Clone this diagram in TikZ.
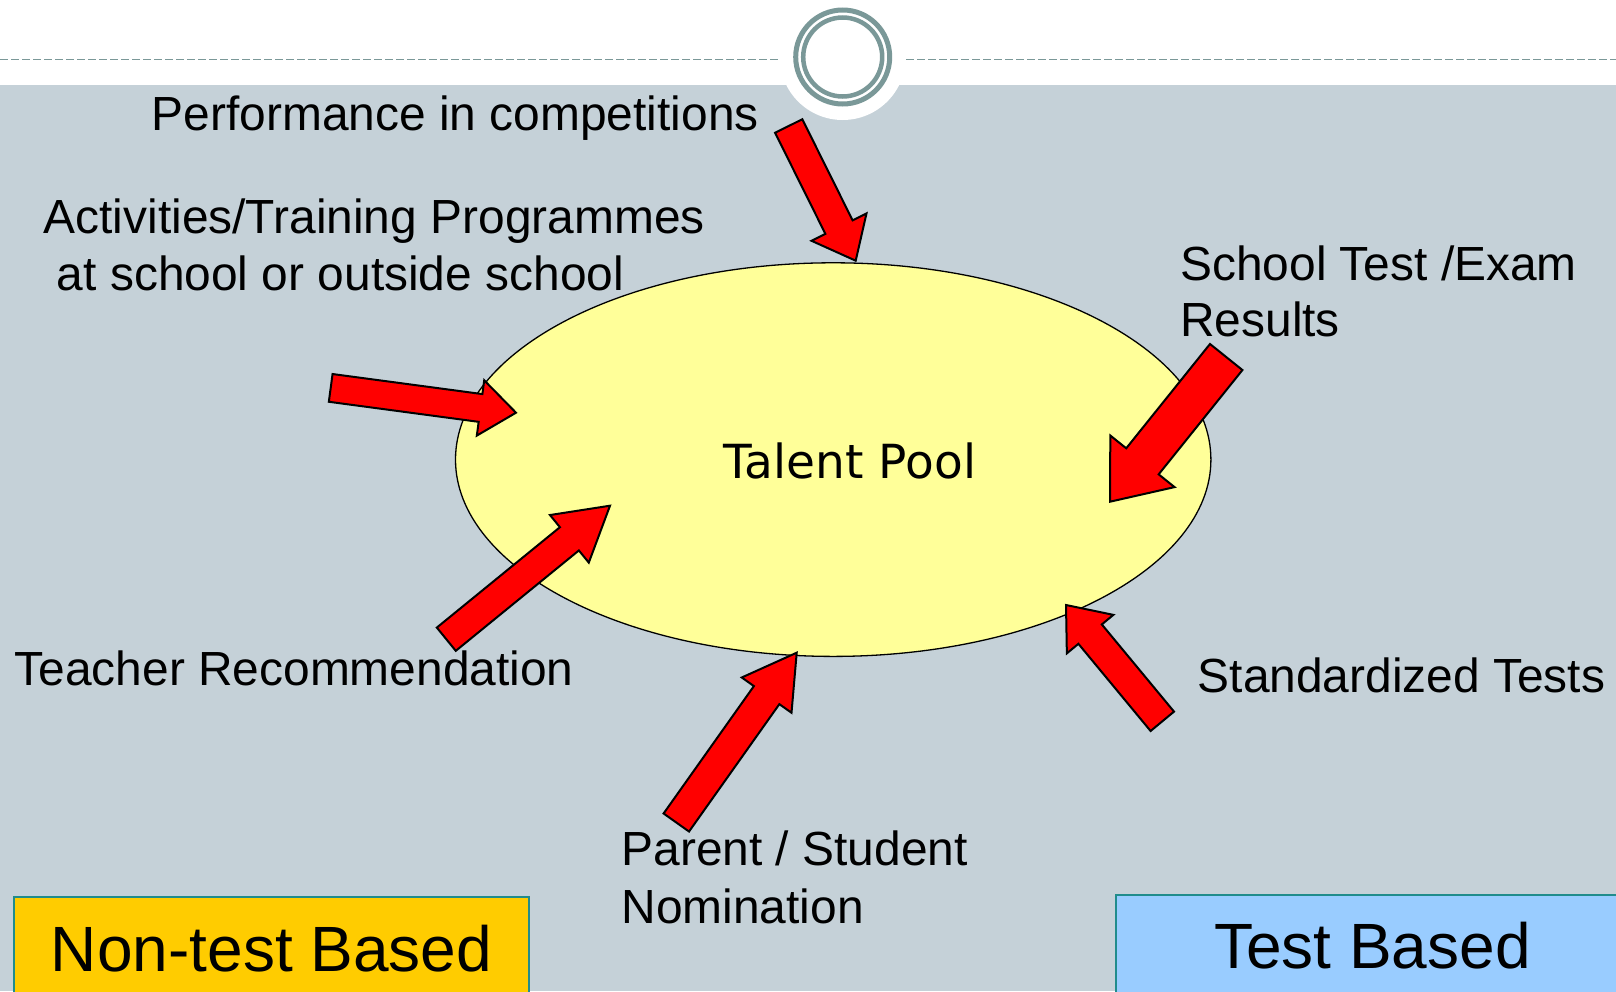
\documentclass[tikz,border=0pt]{standalone}
\usepackage{fontspec}
\setmainfont{Liberation Sans}
\newfontfamily\tpfont{DejaVu Sans}
\usetikzlibrary{calc,shapes.geometric}
\definecolor{bggray}{RGB}{197,209,216}
\definecolor{ringteal}{RGB}{122,152,152}
\definecolor{poolyellow}{RGB}{255,255,153}
\definecolor{boxgold}{RGB}{255,204,0}
\definecolor{boxblue}{RGB}{153,204,255}
\definecolor{boxedge}{RGB}{32,140,140}
% #1 tail, #2 tip, #3 half shaft width, #4 half head width, #5 head length
\newcommand{\redarrow}[5]{%
  \coordinate (#2-b) at ($(#2)!#5pt!(#1)$);
  \filldraw[redarr] ($(#1)!#3pt!90:(#2)$) -- ($(#2-b)!#3pt!90:(#2)$)
    -- ($(#2-b)!#4pt!90:(#2)$) -- (#2) -- ($(#2-b)!#4pt!-90:(#2)$)
    -- ($(#2-b)!#3pt!-90:(#2)$) -- ($(#1)!#3pt!-90:(#2)$) -- cycle;
}
\tikzset{
  lbl/.style={font=\fontsize{47.9}{56.7}\selectfont, inner sep=0pt, anchor=base west},
  boxlbl/.style={font=\fontsize{64}{70}\selectfont, inner sep=0pt, anchor=base},
  redarr/.style={fill=red, draw=black, line width=2pt, line join=miter},
  ring/.style={draw=ringteal},
  dashline/.style={ringteal, line width=1.3pt, dash pattern=on 8pt off 3pt},
}
\begin{document}
\begin{tikzpicture}[x=1pt,y=-1pt]
\useasboundingbox (0,0) rectangle (1616,991);
% background
\fill[white] (0,0) rectangle (1616,85);
\fill[bggray] (0,85) rectangle (1616,991);
\draw[dashline] (0,59.5) -- (778,59.5);
\draw[dashline] (906,59.5) -- (1616,59.5);
\fill[white] (842.7,57) circle[radius=63];
\draw[ring, line width=5pt] (842.7,57) circle[radius=47];
\draw[ring, line width=4.5pt] (842.7,57) circle[radius=39.5];
% talent pool
\node (pool) [ellipse, draw=black, line width=1.3pt, fill=poolyellow, inner sep=0pt,
  minimum width=755.4pt, minimum height=393.6pt] at (833.2,459.6) {};
\node (pooltxt) [inner sep=0pt, font=\tpfont\fontsize{47}{52}\selectfont] at (850,460.7) {Talent Pool};
% arrows
\coordinate (t1) at (788.7,126);   \coordinate (h1) at (855.7,260.7);
\coordinate (t2) at (330.7,387.9); \coordinate (h2) at (516,412.7);
\coordinate (t3) at (1226.2,357);  \coordinate (h3) at (1110,501.7);
\coordinate (t4) at (446.3,639.2); \coordinate (h4) at (610,505.7);
\coordinate (t5) at (676.3,822.5); \coordinate (h5) at (796.7,652.7);
\coordinate (t6) at (1162.3,721.3);\coordinate (h6) at (1066,605);
\redarrow{t1}{h1}{15.2}{30.7}{37.5}
\redarrow{t2}{h2}{14}{27.9}{35.8}
\redarrow{t3}{h3}{20.8}{41.2}{51.8}
\redarrow{t4}{h4}{15}{30.7}{52.4}
\redarrow{t5}{h5}{15.6}{30.5}{52}
\redarrow{t6}{h6}{15.2}{30.2}{37.8}
% labels
\node (perf) [lbl] at (151.5,130.9) {Performance in competitions};
\node (act1) [lbl] at (43.5,233) {Activities/Training Programmes};
\node (act2) [lbl] at (56.7,290) {at school or outside school};
\node (sch1) [lbl] at (1180,280) {School Test /Exam};
\node (sch2) [lbl] at (1180,336.5) {Results};
\node (teach) [lbl] at (14.4,685) {Teacher Recommendation};
\node (par1) [lbl] at (621.4,865.7) {Parent / Student};
\node (par2) [lbl] at (621.4,923.4) {Nomination};
\node (std) [lbl] at (1197.6,692.6) {Standardized Tests};
% boxes
\filldraw[fill=boxgold, draw=boxedge, line width=2pt] (14.4,897) rectangle (528.7,1005);
\node (nontest) [boxlbl] at (271.5,971) {Non-test Based};
\filldraw[fill=boxblue, draw=boxedge, line width=2pt] (1115.7,895) rectangle (1640,1005);
\node (test) [boxlbl] at (1372.5,968) {Test Based};
\end{tikzpicture}
\end{document}
